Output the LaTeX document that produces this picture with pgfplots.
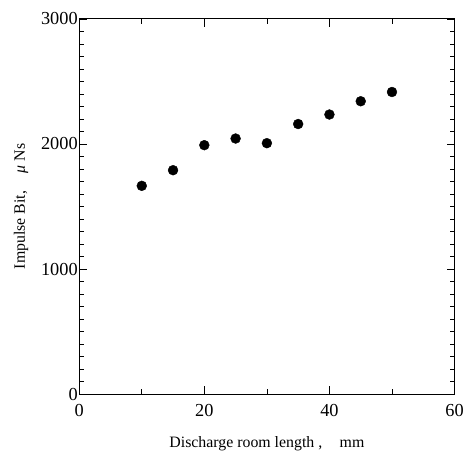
\documentclass[border=0pt]{standalone}
\usepackage{fontspec}
\setmainfont{Liberation Serif}
\usepackage{pgfplots}
\pgfplotsset{compat=1.18}

\begin{document}
\begin{tikzpicture}
\begin{axis}[
    scale only axis,
    width=379pt, height=379pt,
    xmin=0, xmax=60, ymin=0, ymax=3000,
    xtick={0,20,40,60}, ytick={0,1000,2000,3000},
    minor x tick num=1, minor y tick num=9,
    tick align=inside,
    major tick length=8pt, minor tick length=5pt,
    axis line style={line width=0.8pt},
    every tick/.style={black, line width=0.6pt},
    scaled ticks=false,
    /pgf/number format/assume math mode=true,
    /pgf/number format/1000 sep={},
    ticklabel style={font=\fontsize{18.5}{21}\selectfont},
    xticklabel style={yshift=-7pt},
    yticklabel style={xshift=2pt},
    xlabel={Discharge room length ,\hspace{1.1em}mm},
    ylabel={Impulse Bit,\hspace{1.1em}\textit{μ} Ns},
    label style={font=\fontsize{16}{19}\selectfont},
    xlabel style={yshift=-13pt},
    ylabel style={yshift=6pt},
]
\addplot[only marks, mark=*, mark size=5pt, black] coordinates {
    (10,1665) (15,1790) (20,1990) (25,2043) (30,2006)
    (35,2159) (40,2235) (45,2341) (50,2415)
};
\end{axis}
\path (current axis.south west) ++(-80pt,-59pt);
\path (current axis.north east) ++(8pt,19pt);
\end{tikzpicture}
\end{document}
